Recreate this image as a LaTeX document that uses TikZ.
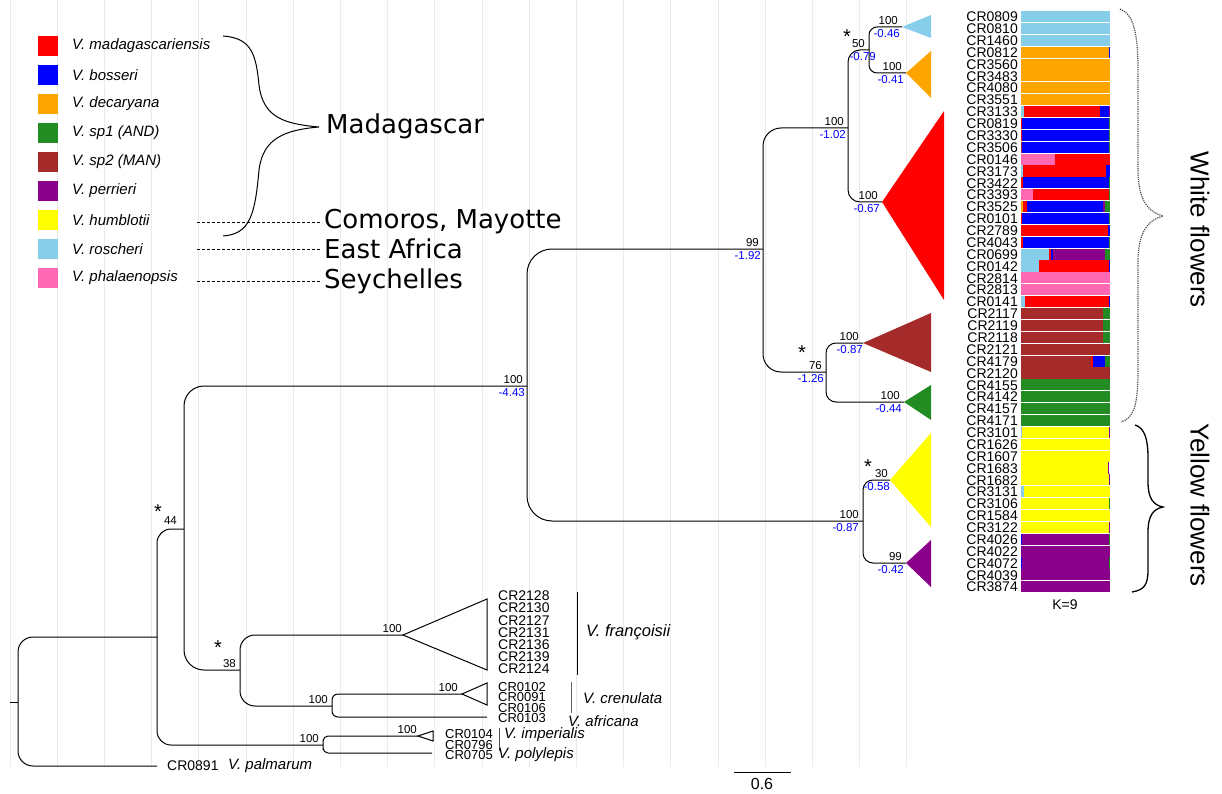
\documentclass[tikz,border=0pt]{standalone}
\usepackage{fontspec}
\setmainfont{Liberation Sans}
\newfontfamily\regionfont{DejaVu Sans}
\usepackage{xcolor}
\usepackage{tikz}

\definecolor{cmad}{HTML}{FF0000}
\definecolor{cbos}{HTML}{0000FF}
\definecolor{cdec}{HTML}{FFA500}
\definecolor{cand}{HTML}{228B22}
\definecolor{cman}{HTML}{A52A2A}
\definecolor{cper}{HTML}{8B008B}
\definecolor{chum}{HTML}{FFFF00}
\definecolor{cros}{HTML}{87CEEB}
\definecolor{cpha}{HTML}{FF69B4}
\definecolor{gridc}{HTML}{EBEBEB}

\newcommand{\fsz}[1]{\fontsize{#1}{#1}\selectfont}

\begin{document}
\begin{tikzpicture}[x=1pt, y=-1pt,
    branch/.style={line width=1pt},
    boot/.style={font=\fsz{11.5}, anchor=south east, inner sep=1pt, xshift=-3pt, yshift=1.5pt},
    len/.style={font=\fsz{11.5}, text=blue, anchor=north east, inner sep=1pt, xshift=-1pt, yshift=-1.5pt},
    star/.style={font=\fsz{20}, inner sep=0pt, yshift=-4.5pt},
    tiplab/.style={font=\fsz{14}, anchor=east, inner sep=1pt},
    leftlab/.style={font=\fsz{14}, anchor=west, inner sep=0pt},
    sp/.style={font=\fsz{15}\itshape, anchor=west, inner sep=0pt},
    region/.style={font=\regionfont\fsz{26}, anchor=west, inner sep=2pt},
    dashline/.style={dash pattern=on 3pt off 2pt, line width=0.8pt}]

\fill[white] (0,0) rectangle (1222,794);
\useasboundingbox (0,0) rectangle (1222,794);

% grid
\foreach \k in {0,...,19}
  \draw[gridc, line width=1pt] ({10+47.2*\k},0) -- ({10+47.2*\k},767);

% tree
\coordinate (rootstub) at (10,702);
\coordinate (root) at (18,702);
\coordinate (nA) at (157,637);
\coordinate (nB) at (184,529);
\coordinate (nC) at (240,670);
\coordinate (nD) at (332,706);
\coordinate (nE) at (323,745);
\coordinate (nF) at (527,386);
\coordinate (nG) at (763,249);
\coordinate (nH) at (848,128);
\coordinate (nI) at (869,50);
\coordinate (nJ) at (826,372);
\coordinate (nK) at (863,521);

\coordinate (tpal) at (157,766);
\coordinate (tfra) at (403,635);
\coordinate (tcre) at (462,694);
\coordinate (tafr) at (487,717);
\coordinate (timp) at (418,736);
\coordinate (tpol) at (432,753);
\coordinate (tros) at (902,27);
\coordinate (tdec) at (906,73);
\coordinate (tmad) at (882,202);
\coordinate (tman) at (863,343);
\coordinate (tand) at (904,402);
\coordinate (thum) at (890,480);
\coordinate (tper) at (906,563);

\draw[branch] (rootstub) -- (root);
\draw[branch, rounded corners=15pt] (nA) -| (root) |- (tpal);
\draw[branch, rounded corners=14pt] (nB) -| (nA) |- (nE);
\draw[branch, rounded corners=20pt] (nF) -| (nB) |- (nC);
\draw[branch, rounded corners=15pt] (tfra) -| (nC) |- (nD);
\draw[branch, rounded corners=6pt] (tcre) -| (nD) |- (tafr);
\draw[branch, rounded corners=5pt] (timp) -| (nE) |- (tpol);
\draw[branch, rounded corners=25pt] (nG) -| (nF) |- (nK);
\draw[branch, rounded corners=18pt] (nH) -| (nG) |- (nJ);
\draw[branch, rounded corners=12pt] (nI) -| (nH) |- (tmad);
\draw[branch, rounded corners=8pt] (tros) -| (nI) |- (tdec);
\draw[branch, rounded corners=10pt] (tman) -| (nJ) |- (tand);
\draw[branch, rounded corners=10pt] (thum) -| (nK) |- (tper);

% collapsed clades
\fill[cros] (tros) -- (931,15) -- (931,38) -- cycle;
\fill[cdec] (tdec) -- (931,51) -- (931,98) -- cycle;
\fill[cmad] (tmad) -- (944,111) -- (944,300) -- cycle;
\fill[cman] (tman) -- (931,313) -- (931,372) -- cycle;
\fill[cand] (tand) -- (931,385) -- (931,420) -- cycle;
\fill[chum] (thum) -- (931,433) -- (931,527) -- cycle;
\fill[cper] (tper) -- (931,540) -- (931,587) -- cycle;
\draw[branch, fill=white] (tfra) -- (487,599) -- (487,670) -- cycle;
\draw[branch, fill=white] (tcre) -- (487,683) -- (487,705) -- cycle;
\draw[branch, fill=white] (timp) -- (433,731) -- (433,741) -- cycle;

% support and length labels
\node[boot] (bF) at (nF) {100};
\node[len] (lF) at (nF) {-4.43};
\node[boot] (bG) at (nG) {99};
\node[len] (lG) at (nG) {-1.92};
\node[boot] (bH) at (nH) {100};
\node[len] (lH) at (nH) {-1.02};
\node[boot] (bI) at (nI) {50};
\node[len, xshift=9pt] (lI) at (nI) {-0.79};
\node[boot] (bros) at (tros) {100};
\node[len] (lros) at (tros) {-0.46};
\node[boot] (bdec) at (tdec) {100};
\node[len] (ldec) at (tdec) {-0.41};
\node[boot] (bmad) at (tmad) {100};
\node[len] (lmad) at (tmad) {-0.67};
\node[boot] (bJ) at (nJ) {76};
\node[len] (lJ) at (nJ) {-1.26};
\node[boot] (bman) at (tman) {100};
\node[len, xshift=2pt] (lman) at (tman) {-0.87};
\node[boot] (band) at (tand) {100};
\node[len] (land) at (tand) {-0.44};
\node[boot] (bK) at (nK) {100};
\node[len, xshift=-2pt] (lK) at (nK) {-0.87};
\node[boot, xshift=2pt] (bhum) at (thum) {30};
\node[len, xshift=2pt] (lhum) at (thum) {-0.58};
\node[boot] (bper) at (tper) {99};
\node[len] (lper) at (tper) {-0.42};
\node[boot, xshift=-3pt, yshift=2pt] (bB) at (nB) {44};
\node[boot] (bC) at (nC) {38};
\node[boot] (bD) at (nD) {100};
\node[boot] (bE) at (nE) {100};
\node[boot, xshift=3pt] (bfra) at (tfra) {100};
\node[boot] (bcre) at (tcre) {100};
\node[boot, xshift=3pt] (bimp) at (timp) {100};

\node[star] (sI) at (847,32) {*};
\node[star] (sJ) at (802,348) {*};
\node[star] (sK) at (868,462) {*};
\node[star] (sB) at (158,507) {*};
\node[star] (sC) at (218,643) {*};

% tips, lower part
\foreach \lab [count=\i from 0] in {CR2128,CR2130,CR2127,CR2131,CR2136,CR2139,CR2124}
  \node[leftlab] (f\i) at (498,{596+12.17*\i}) {\lab};
\foreach \lab [count=\i from 0] in {CR0102,CR0091,CR0106,CR0103}
  \node[leftlab, font=\fsz{13}] (c\i) at (498,{687+10.3*\i}) {\lab};
\foreach \lab/\yy [count=\i from 0] in {CR0104/734,CR0796/745,CR0705/755}
  \node[leftlab, font=\fsz{13}] (m\i) at (445,\yy) {\lab};
\node[leftlab] (pal) at (167,766) {CR0891};

\draw[line width=1pt] (577,592) -- (577,675);
\draw[black!60, line width=1pt] (571,682) -- (571,713);
\draw[black!70, line width=1pt] (499,728) -- (499,751);
\node[sp, font=\fsz{16.5}\itshape] (sfra) at (586,632) {V. françoisii};
\node[sp] (scre) at (583,698) {V. crenulata};
\node[sp] (safr) at (568,721) {V. africana};
\node[sp] (simp) at (504,735) {V. imperialis};
\node[sp] (spol) at (498,755) {V. polylepis};
\node[sp] (spal) at (228,766) {V. palmarum};

% scale
\coordinate (sca) at (734,772);
\coordinate (scb) at (791,772);
\draw[line width=1pt] (sca) -- (scb);
\node[font=\fsz{16}] (scl) at (762,784) {0.6};

% structure plot
\foreach \lab/\segs [count=\i from 0] in {
  CR0809/{cros/1}, CR0810/{cros/1}, CR1460/{cros/1},
  CR0812/{cdec/0.985,cbos/1}, CR3560/{cdec/1}, CR3483/{cdec/1}, CR4080/{cdec/1}, CR3551/{cdec/1},
  CR3133/{cros/0.03,cmad/0.89,cbos/0.99,cper/1},
  CR0819/{cmad/0.01,cbos/0.99,cand/1}, CR3330/{cmad/0.01,cbos/0.99,cand/1},
  CR3506/{cman/0.01,cbos/0.99,cand/1}, CR0146/{cpha/0.38,cmad/1},
  CR3173/{cros/0.02,cmad/0.96,cbos/1}, CR3422/{cmad/0.02,cbos/0.99,cand/1},
  CR3393/{cpha/0.13,cmad/0.99,cand/1},
  CR3525/{cdec/0.02,cmad/0.07,cbos/0.92,cper/0.945,cand/1},
  CR0101/{cmad/0.01,cbos/0.99,cand/1}, CR2789/{cmad/0.98,cbos/1},
  CR4043/{cmad/0.02,cbos/0.99,cand/1},
  CR0699/{cros/0.315,cmad/0.34,cbos/0.36,cper/0.945,cand/1},
  CR0142/{cros/0.2,cmad/0.99,cbos/1}, CR2814/{cpha/1}, CR2813/{cpha/1},
  CR0141/{cros/0.045,cmad/0.99,cbos/1},
  CR2117/{cman/0.92,cand/1}, CR2119/{cman/0.92,cand/1}, CR2118/{cman/0.92,cand/1},
  CR2121/{cman/1}, CR4179/{cman/0.79,cmad/0.81,cbos/0.945,cand/1}, CR2120/{cman/1},
  CR4155/{cand/1}, CR4142/{cand/1}, CR4157/{cand/1}, CR4171/{cand/1},
  CR3101/{cros/0.01,chum/0.99,cper/1}, CR1626/{chum/1}, CR1607/{chum/1},
  CR1683/{chum/0.975,cper/0.985}, CR1682/{chum/0.99,cper/1},
  CR3131/{cros/0.035,chum/1}, CR3106/{chum/0.99,cand/1}, CR1584/{chum/1},
  CR3122/{chum/0.99,cper/1},
  CR4026/{cbos/0.01,cper/0.99,cand/1}, CR4022/{cper/1},
  CR4072/{cbos/0.01,cper/0.99,cand/1}, CR4039/{cper/1}, CR3874/{cper/1}} {
  \pgfmathsetmacro\ytop{11+11.88*\i}
  \foreach \c/\e [remember=\e as \s (initially 0)] in \segs
    \fill[\c] ({1021+89*\s},\ytop) rectangle ({1021+89*\e},\ytop+11.1);
  \node[tiplab] (s\i) at (1019,\ytop+5.9) {\lab};
}
\node[font=\fsz{14}] (kval) at (1065,605) {K=9};

% flower colour braces
\draw[black!70, densely dotted, line width=1.2pt] (1120,9) .. controls (1134,14) and (1138,35) .. (1138,70)
  -- (1138,170) .. controls (1138,200) and (1148,212) .. (1163,216)
  .. controls (1148,220) and (1138,232) .. (1138,262) -- (1138,370)
  .. controls (1138,405) and (1134,418) .. (1121,422);
\draw[line width=1.3pt] (1135,425) .. controls (1145,428) and (1148,440) .. (1148,458)
  -- (1148,482) .. controls (1148,498) and (1153,505) .. (1163,507)
  .. controls (1153,509) and (1148,516) .. (1148,532) -- (1148,570)
  .. controls (1148,585) and (1144,590) .. (1132,592);
\node[font=\fsz{26}, rotate=-90] (white) at (1200,230) {White flowers};
\node[font=\fsz{26}, rotate=-90] (yellow) at (1200,505) {Yellow flowers};

% legend
\foreach \col/\name [count=\i from 0] in {cmad/{V. madagascariensis}, cbos/{V. bosseri},
    cdec/{V. decaryana}, cand/{V. sp1 (AND)}, cman/{V. sp2 (MAN)}, cper/{V. perrieri},
    chum/{V. humblotii}, cros/{V. roscheri}, cpha/{V. phalaenopsis}} {
  \node[fill=\col, minimum size=20pt, inner sep=0pt] (box\i) at (48,{46+29*\i}) {};
  \node[sp] (leg\i) at (72,{46+29*\i}) {\name};
}

% regions
\node[region] (mada) at (324,126) {Madagascar};
\node[region] (como) at (322,222) {Comoros, Mayotte};
\node[region] (eafr) at (322,249) {East Africa};
\node[region] (seyc) at (322,281) {Seychelles};
\coordinate (btop) at (223,36);
\coordinate (btip) at (319,127);
\coordinate (bbot) at (223,236);
\draw[line width=1pt] (btop) .. controls (252,38) and (256,55) .. (259,85)
  .. controls (263,118) and (285,124) .. (btip)
  .. controls (285,130) and (263,138) .. (259,170)
  .. controls (255,215) and (250,234) .. (bbot);
\coordinate (dh) at (197,222);
\coordinate (dr) at (197,249);
\coordinate (dp) at (197,281);
\draw[dashline] (dh) -- (dh -| como.west);
\draw[dashline] (dr) -- (dr -| eafr.west);
\draw[dashline] (dp) -- (dp -| seyc.west);
\end{tikzpicture}
\end{document}
